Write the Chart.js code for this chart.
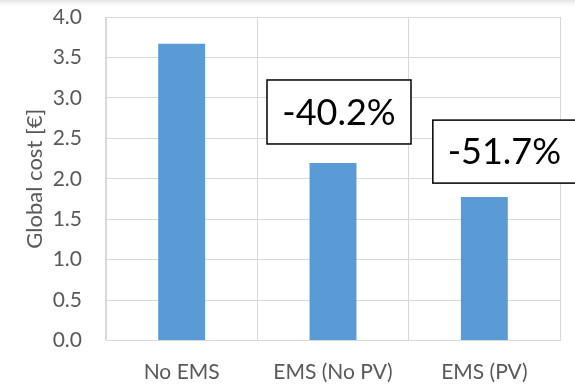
<!DOCTYPE html>
<html>
<head>
<meta charset="utf-8">
<script src="https://cdn.jsdelivr.net/npm/chart.js@4"></script>
<style>
  html, body { margin: 0; padding: 0; background: #fff; }
  body { width: 575px; height: 385px; background: linear-gradient(#e4e4e4 0px, #f3f3f3 3px, #ffffff 7px); }
  #wrap { position: relative; width: 575px; height: 385px; }
  canvas { display: block; }
</style>
</head>
<body>
<div id="wrap"><canvas id="c" width="575" height="385"></canvas></div>
<script>
// Global cost per scenario, in euros
const categories = ['No EMS', 'EMS (No PV)', 'EMS (PV)'];
const globalCost = [3.67, 2.195, 1.773];
const yTickValues = [0, 0.5, 1.0, 1.5, 2.0, 2.5, 3.0, 3.5, 4.0];

const FONT = "Lato, 'Noto Sans', sans-serif";
const GRID = '#d9d9d9';
const LABEL = '#595959';

// Savings callouts placed above each EMS bar (pixel offsets from the bar)
const callouts = [null, { dx: 6, gap: 19, w: 144, h: 64 }, { dx: 20, gap: 14, w: 143, h: 63 }];

const calloutPlugin = {
  id: 'savingsCallouts',
  afterDatasetsDraw(chart) {
    const ctx = chart.ctx;
    const meta = chart.getDatasetMeta(0);
    const base = globalCost[0];
    ctx.save();
    meta.data.forEach((bar, i) => {
      const c = callouts[i];
      if (!c) return;
      const pct = ((globalCost[i] - base) / base * 100).toFixed(1) + '%';
      const cx = bar.x + c.dx;
      const bottom = bar.y - c.gap;
      const left = cx - c.w / 2;
      const top = bottom - c.h;
      ctx.fillStyle = '#ffffff';
      ctx.fillRect(left, top, c.w, c.h);
      ctx.lineWidth = 1.5;
      ctx.strokeStyle = '#000000';
      ctx.strokeRect(left, top, c.w, c.h);
      ctx.fillStyle = '#000000';
      ctx.font = '36px ' + FONT;
      ctx.textAlign = 'center';
      ctx.textBaseline = 'middle';
      ctx.fillText(pct, cx, top + c.h / 2 + 1);
    });
    ctx.restore();
  }
};

// Keep the axes from reserving extra room around the plot area
function noScalePadding(scale) {
  scale.paddingTop = 0;
  scale.paddingBottom = 0;
  scale.paddingLeft = 0;
  scale.paddingRight = 0;
}

new Chart(document.getElementById('c'), {
  type: 'bar',
  data: {
    labels: categories,
    datasets: [{
      data: globalCost,
      backgroundColor: '#5b9bd5',
      borderWidth: 0,
      categoryPercentage: 1.0,
      barPercentage: 0.31
    }]
  },
  options: {
    responsive: false,
    animation: false,
    layout: { padding: { top: 17, right: 15, left: 0, bottom: 0 } },
    plugins: {
      legend: { display: false },
      tooltip: { enabled: false }
    },
    scales: {
      x: {
        grid: { color: GRID, lineWidth: 1, drawTicks: false, offset: true },
        border: { color: GRID, width: 1 },
        ticks: { color: LABEL, font: { family: FONT, size: 21 }, padding: 19, maxRotation: 0 },
        afterFit(scale) { scale.height = 44.5; noScalePadding(scale); }
      },
      y: {
        min: 0,
        max: 4,
        grid: { color: GRID, lineWidth: 1, drawTicks: false },
        border: { color: GRID, width: 1 },
        afterBuildTicks(scale) { scale.ticks = yTickValues.map(v => ({ value: v })); },
        ticks: {
          color: LABEL,
          font: { family: FONT, size: 21 },
          padding: 24,
          callback: v => Number(v).toFixed(1)
        },
        title: {
          display: true,
          text: 'Global cost [€]',
          color: LABEL,
          font: { family: FONT, size: 22 },
          padding: { top: 22, bottom: 0 }
        },
        afterFit(scale) { scale.width = 106; noScalePadding(scale); }
      }
    }
  },
  plugins: [calloutPlugin]
});
</script>
</body>
</html>
